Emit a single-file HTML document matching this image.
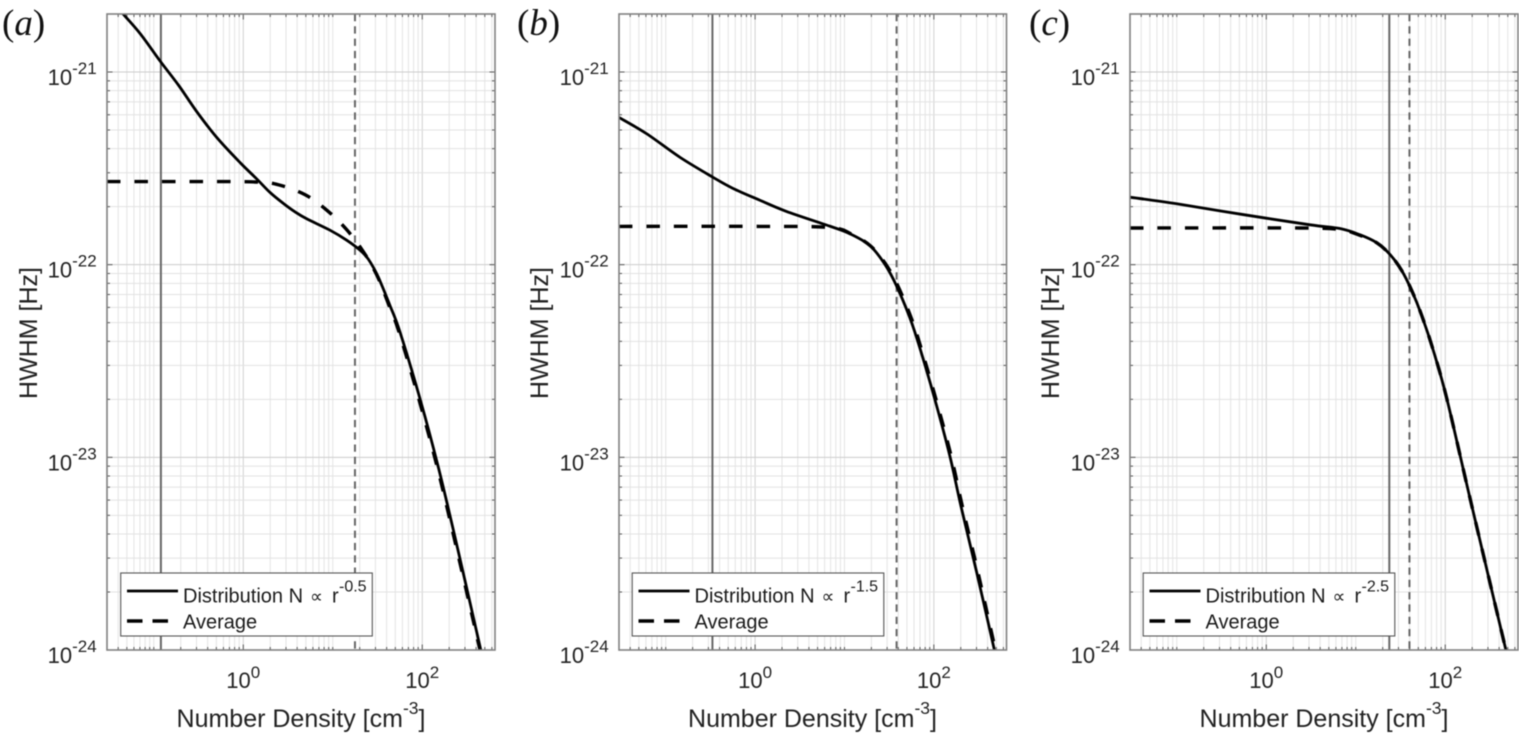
<!DOCTYPE html>
<html lang="en">
<head>
<meta charset="utf-8">
<title>HWHM vs Number Density</title>
<style>
  html, body { margin: 0; padding: 0; background: #fff; width: 1519px; height: 733px; overflow: hidden; }
  svg { display: block; filter: blur(0.5px); }
  text { font-family: "Liberation Sans", Arial, sans-serif; fill: #222; }
  .panel-letter { font-family: "Liberation Serif", serif; font-size: 37px; fill: #111; }
  .axis-title { font-size: 25px; }
  .legend-text { font-size: 20px; fill: #1a1a1a; }
  .tick-label { font-size: 22px; }
</style>
</head>
<body>
<svg id="figure" xmlns="http://www.w3.org/2000/svg" width="1519" height="733" viewBox="0 0 1519 733">
  <rect x="0" y="0" width="1519" height="733" fill="#fff"/>

  <g id="panel-a">
    <g class="marks"></g>
    <text class="panel-letter" x="2" y="35">(<tspan font-style="italic">a</tspan>)</text>
    <text class="axis-title" x="301" y="727" text-anchor="middle">Number Density [cm<tspan font-size="17.5" dy="-13">-3</tspan><tspan dy="13">]</tspan></text>
    <text class="axis-title" transform="translate(37,333) rotate(-90)" text-anchor="middle">HWHM [Hz]</text>
    <g>
      <rect x="120.7" y="573" width="251.6" height="63" fill="#fff" stroke="#555" stroke-width="1.1"/>
      <line x1="127" x2="178" y1="591" y2="591" stroke="#000" stroke-width="2.8"/>
      <line x1="127" x2="168" y1="621" y2="621" stroke="#000" stroke-width="3.4" stroke-dasharray="15.5 10"/>
      <text class="legend-text" x="183" y="602.5">Distribution N<tspan x="310" font-family="DejaVu Sans, sans-serif" font-size="18">∝</tspan><tspan x="332">r</tspan><tspan x="339" y="591.5" font-size="16">-0.5</tspan></text>
      <text class="legend-text" x="183" y="628.5">Average</text>
    </g>
  </g>

  <g id="panel-b">
    <g class="marks"></g>
    <text class="panel-letter" x="517" y="35">(<tspan font-style="italic">b</tspan>)</text>
    <text class="axis-title" x="812.5" y="727" text-anchor="middle">Number Density [cm<tspan font-size="17.5" dy="-13">-3</tspan><tspan dy="13">]</tspan></text>
    <text class="axis-title" transform="translate(548,333) rotate(-90)" text-anchor="middle">HWHM [Hz]</text>
    <g transform="translate(511.5,0)">
      <rect x="120.7" y="573" width="251.6" height="63" fill="#fff" stroke="#555" stroke-width="1.1"/>
      <line x1="127" x2="178" y1="591" y2="591" stroke="#000" stroke-width="2.8"/>
      <line x1="127" x2="168" y1="621" y2="621" stroke="#000" stroke-width="3.4" stroke-dasharray="15.5 10"/>
      <text class="legend-text" x="183" y="602.5">Distribution N<tspan x="310" font-family="DejaVu Sans, sans-serif" font-size="18">∝</tspan><tspan x="332">r</tspan><tspan x="339" y="591.5" font-size="16">-1.5</tspan></text>
      <text class="legend-text" x="183" y="628.5">Average</text>
    </g>
  </g>

  <g id="panel-c">
    <g class="marks"></g>
    <text class="panel-letter" x="1029" y="35">(<tspan font-style="italic">c</tspan>)</text>
    <text class="axis-title" x="1324" y="727" text-anchor="middle">Number Density [cm<tspan font-size="17.5" dy="-13">-3</tspan><tspan dy="13">]</tspan></text>
    <text class="axis-title" transform="translate(1059,333) rotate(-90)" text-anchor="middle">HWHM [Hz]</text>
    <g transform="translate(1022.5,0)">
      <rect x="120.7" y="573" width="251.6" height="63" fill="#fff" stroke="#555" stroke-width="1.1"/>
      <line x1="127" x2="178" y1="591" y2="591" stroke="#000" stroke-width="2.8"/>
      <line x1="127" x2="168" y1="621" y2="621" stroke="#000" stroke-width="3.4" stroke-dasharray="15.5 10"/>
      <text class="legend-text" x="183" y="602.5">Distribution N<tspan x="310" font-family="DejaVu Sans, sans-serif" font-size="18">∝</tspan><tspan x="332">r</tspan><tspan x="339" y="591.5" font-size="16">-2.5</tspan></text>
      <text class="legend-text" x="183" y="628.5">Average</text>
    </g>
  </g>
</svg>

<script>
// Shared axis limits and tick labels
const xLimits = [0.03, 650];
const yLimits = [1e-24, 2e-21];
const xTickValues = [1, 100];
const xTickExponents = ['0', '2'];
const yTickValues = [1e-21, 1e-22, 1e-23, 1e-24];
const yTickExponents = ['-21', '-22', '-23', '-24'];

// Panel (a)
const densitySolidA = [0.0441, 0.0706, 0.118, 0.19, 0.304, 0.508, 0.925, 1.41, 1.99, 2.8, 3.78, 5.11, 9.31, 14.3, 20.1, 24.9, 32.2, 43.5, 56.4, 94.2, 151, 232, 451];
const hwhmSolidA = [2.03e-21, 1.58e-21, 1.138e-21, 8.51e-22, 6.2e-22, 4.56e-22, 3.38e-22, 2.79e-22, 2.37e-22, 2.08e-22, 1.88e-22, 1.73e-22, 1.51e-22, 1.34e-22, 1.19e-22, 1.07e-22, 8.63e-23, 6.15e-23, 4.47e-23, 2.02e-23, 8.91e-24, 3.86e-24, 1e-24];
const densityAverageA = [0.03, 0.328, 1.42, 2.46, 4.89, 8.67, 14.3, 21.9, 31.2, 42.5, 55, 91.8, 147, 226, 442];
const hwhmAverageA = [2.7e-22, 2.7e-22, 2.685e-22, 2.6e-22, 2.31e-22, 1.91e-22, 1.52e-22, 1.17e-22, 8.8e-23, 6.15e-23, 4.47e-23, 2.0e-23, 8.9e-24, 3.86e-24, 1e-24];
const markerDensitiesA = [0.12, 17.7];

// Panel (b)
const densitySolidB = [0.03, 0.0612, 0.144, 0.334, 0.564, 1.13, 2.24, 6.84, 11.4, 19.1, 28.1, 38, 53.5, 69.2, 102, 150, 202, 298, 476];
const hwhmSolidB = [5.81e-22, 4.78e-22, 3.61e-22, 2.85e-22, 2.49e-22, 2.16e-22, 1.89e-22, 1.585e-22, 1.45e-22, 1.26e-22, 1.01e-22, 7.81e-23, 5.35e-23, 3.74e-23, 2.02e-23, 1.03e-23, 5.53e-24, 2.59e-24, 1e-24];
const densityAverageB = [0.03, 1.13, 6.84, 12, 19.6, 28.8, 39.3, 55.3, 71.4, 105, 155, 209, 308, 489];
const hwhmAverageB = [1.58e-22, 1.58e-22, 1.56e-22, 1.44e-22, 1.25e-22, 1.01e-22, 7.81e-23, 5.35e-23, 3.74e-23, 2.02e-23, 1.03e-23, 5.53e-24, 2.59e-24, 1e-24];
const markerDensitiesB = [0.333, 38.3];

// Panel (c)
const densitySolidC = [0.03, 0.0998, 0.55, 3.08, 6.65, 11.1, 17.1, 24.1, 32.6, 42.1, 54.5, 73.5, 104, 189, 476];
const hwhmSolidC = [2.24e-22, 2.07e-22, 1.82e-22, 1.61e-22, 1.54e-22, 1.43e-22, 1.3e-22, 1.13e-22, 9.33e-23, 7.36e-23, 5.46e-23, 3.59e-23, 2.02e-23, 6.14e-24, 1e-24];
const densityAverageC = [0.03, 2.38, 6.65, 11.1, 17.1, 24.1, 32.6, 42.1, 54.5, 73.5, 104, 189, 476];
const hwhmAverageC = [1.55e-22, 1.55e-22, 1.52e-22, 1.42e-22, 1.3e-22, 1.13e-22, 9.33e-23, 7.36e-23, 5.46e-23, 3.59e-23, 2.02e-23, 6.14e-24, 1e-24];
const markerDensitiesC = [23.7, 39.8];

const SVG_NS = 'http://www.w3.org/2000/svg';
const TOP = 14, BOTTOM = 650;

function addLine(parent, x1, y1, x2, y2, color, width) {
  const line = document.createElementNS(SVG_NS, 'line');
  line.setAttribute('x1', x1);
  line.setAttribute('y1', y1);
  line.setAttribute('x2', x2);
  line.setAttribute('y2', y2);
  line.setAttribute('stroke', color);
  line.setAttribute('stroke-width', width);
  parent.appendChild(line);
  return line;
}

function smoothPath(pts) {
  let d = 'M' + pts[0][0].toFixed(2) + ' ' + pts[0][1].toFixed(2);
  for (let i = 0; i < pts.length - 1; i++) {
    const p0 = pts[Math.max(i - 1, 0)], p1 = pts[i], p2 = pts[i + 1], p3 = pts[Math.min(i + 2, pts.length - 1)];
    const c1x = p1[0] + (p2[0] - p0[0]) / 6, c1y = p1[1] + (p2[1] - p0[1]) / 6;
    const c2x = p2[0] - (p3[0] - p1[0]) / 6, c2y = p2[1] - (p3[1] - p1[1]) / 6;
    d += 'C' + c1x.toFixed(2) + ' ' + c1y.toFixed(2) + ' ' + c2x.toFixed(2) + ' ' + c2y.toFixed(2) + ' ' + p2[0].toFixed(2) + ' ' + p2[1].toFixed(2);
  }
  return d;
}

function drawPanel(panelId, left, width, densitySolid, hwhmSolid, densityAverage, hwhmAverage, markers) {
  const panel = document.getElementById(panelId);
  const marks = panel.querySelector('.marks');
  const right = left + width;

  const xScale = function (v) {
    return left + (Math.log10(v) - Math.log10(xLimits[0])) / (Math.log10(xLimits[1]) - Math.log10(xLimits[0])) * width;
  };
  const yScale = function (v) {
    return BOTTOM - (Math.log10(v) - Math.log10(yLimits[0])) / (Math.log10(yLimits[1]) - Math.log10(yLimits[0])) * (BOTTOM - TOP);
  };

  // white plot background
  const bg = document.createElementNS(SVG_NS, 'rect');
  
  
  bg.setAttribute('x', left);
  bg.setAttribute('y', TOP);
  bg.setAttribute('width', width);
  bg.setAttribute('height', BOTTOM - TOP);
  bg.setAttribute('fill', '#fff');
  marks.appendChild(bg);

  const grid = document.createElementNS(SVG_NS, 'g');
  
  
  marks.appendChild(grid);

  const ticks = document.createElementNS(SVG_NS, 'g');
  
  

  // vertical grid + ticks
  for (let k = -2; k <= 2; k++) {
    for (let m = 1; m <= 9; m++) {
      const v = m * Math.pow(10, k);
      if (v < xLimits[0] || v > xLimits[1]) continue;
      const x = xScale(v);
      const major = xTickValues.some(function (t) { return Math.abs(t - v) < 1e-9; });
      const gx = addLine(grid, x, TOP, x, BOTTOM, major ? '#d0d0d0' : '#e4e4e4', 1);
      
      
      const len = major ? 5.5 : 3;
      const t1 = addLine(ticks, x, BOTTOM, x, BOTTOM - len, '#555', 1);
      
      
      const t2 = addLine(ticks, x, TOP, x, TOP + len, '#555', 1);
      
      
    }
  }

  // horizontal grid + ticks
  for (let k = -24; k <= -21; k++) {
    for (let m = 1; m <= 9; m++) {
      const v = m * Math.pow(10, k);
      if (v < yLimits[0] * 0.999 || v > yLimits[1] * 1.001) continue;
      const y = yScale(v);
      const major = m === 1;
      const gy = addLine(grid, left, y, right, y, major ? '#cccccc' : '#e2e2e2', 1);
      
      
      const len = major ? 5.5 : 3;
      const t1 = addLine(ticks, left, y, left + len, y, '#555', 1);
      
      
      const t2 = addLine(ticks, right, y, right - len, y, '#555', 1);
      
      
    }
  }
  marks.appendChild(ticks);

  // vertical reference lines
  const refSolid = addLine(marks, xScale(markers[0]), TOP, xScale(markers[0]), BOTTOM, '#666', 2);
  
  
  const refDashed = addLine(marks, xScale(markers[1]), TOP, xScale(markers[1]), BOTTOM, '#666', 2);
  refDashed.setAttribute('stroke-dasharray', '7.3 5');
  
  

  // clip
  const clip = document.createElementNS(SVG_NS, 'clipPath');
  clip.setAttribute('id', 'clip-' + panelId);
  const clipRect = document.createElementNS(SVG_NS, 'rect');
  clipRect.setAttribute('x', left);
  clipRect.setAttribute('y', TOP);
  clipRect.setAttribute('width', width);
  clipRect.setAttribute('height', BOTTOM - TOP);
  clip.appendChild(clipRect);
  marks.appendChild(clip);

  // average curve (dashed)
  const avgPts = densityAverage.map(function (d, i) { return [xScale(d), yScale(hwhmAverage[i])]; });
  const avgPath = document.createElementNS(SVG_NS, 'path');
  
  
  avgPath.setAttribute('d', smoothPath(avgPts));
  avgPath.setAttribute('fill', 'none');
  avgPath.setAttribute('stroke', '#000');
  avgPath.setAttribute('stroke-width', '3.4');
  avgPath.setAttribute('stroke-dasharray', '13.5 14');
  avgPath.setAttribute('clip-path', 'url(#clip-' + panelId + ')');
  marks.appendChild(avgPath);

  // distribution curve (solid)
  const solidPts = densitySolid.map(function (d, i) { return [xScale(d), yScale(hwhmSolid[i])]; });
  const solidPath = document.createElementNS(SVG_NS, 'path');
  
  
  solidPath.setAttribute('d', smoothPath(solidPts));
  solidPath.setAttribute('fill', 'none');
  solidPath.setAttribute('stroke', '#000');
  solidPath.setAttribute('stroke-width', '2.8');
  solidPath.setAttribute('clip-path', 'url(#clip-' + panelId + ')');
  marks.appendChild(solidPath);

  // frame
  const frame = document.createElementNS(SVG_NS, 'rect');
  
  
  frame.setAttribute('x', left);
  frame.setAttribute('y', TOP);
  frame.setAttribute('width', width);
  frame.setAttribute('height', BOTTOM - TOP);
  frame.setAttribute('fill', 'none');
  frame.setAttribute('stroke', '#808080');
  frame.setAttribute('stroke-width', '1.6');
  marks.appendChild(frame);

  // y tick labels
  yTickValues.forEach(function (v, i) {
    const label = document.createElementNS(SVG_NS, 'text');
    
    
    label.setAttribute('class', 'tick-label');
    label.setAttribute('x', left - 10.3);
    label.setAttribute('y', yScale(v) + 13);
    label.setAttribute('text-anchor', 'end');
    label.appendChild(document.createTextNode('10'));
    const sup = document.createElementNS(SVG_NS, 'tspan');
    sup.setAttribute('font-size', '17');
    sup.setAttribute('dy', '-11');
    sup.textContent = yTickExponents[i];
    label.appendChild(sup);
    marks.appendChild(label);
  });

  // x tick labels
  xTickValues.forEach(function (v, i) {
    const label = document.createElementNS(SVG_NS, 'text');
    
    
    label.setAttribute('class', 'tick-label');
    label.setAttribute('x', xScale(v));
    label.setAttribute('y', 688);
    label.setAttribute('text-anchor', 'middle');
    label.appendChild(document.createTextNode('10'));
    const sup = document.createElementNS(SVG_NS, 'tspan');
    sup.setAttribute('font-size', '17');
    sup.setAttribute('dy', '-10');
    sup.textContent = xTickExponents[i];
    label.appendChild(sup);
    marks.appendChild(label);
  });
}

drawPanel('panel-a', 107, 388, densitySolidA, hwhmSolidA, densityAverageA, hwhmAverageA, markerDensitiesA);
drawPanel('panel-b', 619, 387.5, densitySolidB, hwhmSolidB, densityAverageB, hwhmAverageB, markerDensitiesB);
drawPanel('panel-c', 1130, 388, densitySolidC, hwhmSolidC, densityAverageC, hwhmAverageC, markerDensitiesC);
</script>
</body>
</html>
